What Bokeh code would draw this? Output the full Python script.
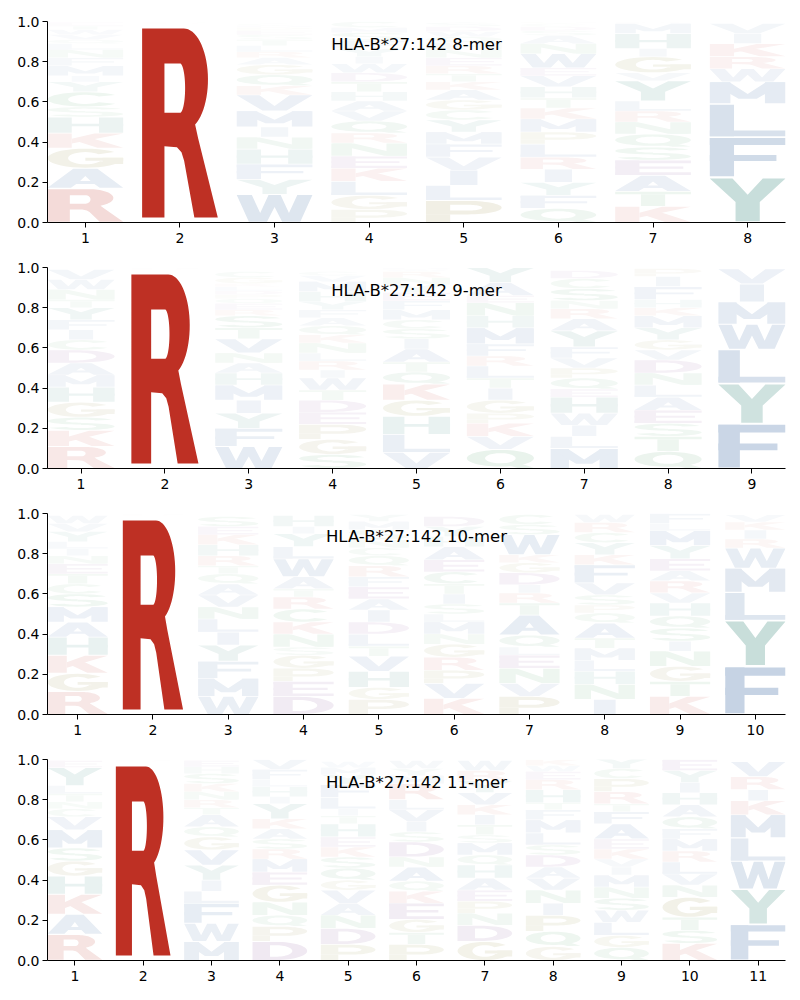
import numpy as np
from bokeh.plotting import figure
from bokeh.models import ColumnDataSource, Range1d, FixedTicker, PrintfTickFormatter, Label
from bokeh.layouts import column
from bokeh.embed import file_html
from bokeh.resources import INLINE

allele = "HLA-B*27:142"
lengths = [8, 9, 10, 11]
y_ticks = [0.0, 0.2, 0.4, 0.6, 0.8, 1.0]

# letters per position, bottom -> top, with their heights
letters_8 = ["RAGKHSCYIMFNLQVWTE", "RKQH", "WYFHNIMVKQGARLTSEPDC", "PGLKENRQVAHTDWIYFSMC",
             "PLIVFMYCGAKTRENHQWDS", "QFYIRLPMKTHVEWNASDCG", "KTAESQNRLYVGIHMFW", "YFLMWRKIV"]
heights_8 = [
    [.17, .10, .10, .075, .08, .05, .075, .05, .03, .05, .04, .04, .03, .02, .025, .025, .02, .015],
    [.99, .005, .003, .002],
    [.14, .075, .075, .075, .06, .05, .08, .08, .045, .055, .05, .035, .03, .03, .03, .025, .02, .015, .01, .01],
    [.065, .07, .07, .065, .06, .065, .05, .06, .05, .05, .045, .05, .045, .045, .035, .04, .04, .04, .025, .03],
    [.11, .075, .075, .065, .065, .06, .06, .05, .05, .05, .04, .04, .04, .04, .04, .035, .03, .025, .025, .02],
    [.07, .065, .065, .065, .06, .065, .06, .065, .055, .05, .055, .055, .04, .07, .05, .04, .025, .02, .015, .01],
    [.08, .075, .08, .075, .065, .065, .06, .055, .05, .1, .04, .08, .04, .075, .05, .005, .005],
    [.225, .2, .165, .11, .065, .06, .065, .05, .05],
]

letters_9 = ["RKSGHMADCIFYTNWV", "RKH", "WFYIMHANVTSREQPDLKGC", "SGPEDTWIRLNKQAFYHMVC",
             "VLHGKQTAISCMFEYNRWD", "QVKPGITLRFMHNEAY", "MLIWHEQPVFYARNSCD", "QTSEALNDVGYMKHFIP",
             "FYLWMIV"]
heights_9 = [
    [.11, .08, .065, .075, .075, .06, .06, .065, .05, .05, .05, .06, .04, .05, .05, .05],
    [.99, .005, .005],
    [.11, .09, .075, .065, .075, .06, .05, .05, .07, .055, .06, .03, .03, .025, .02, .02, .02, .015, .03, .03],
    [.07, .075, .075, .06, .06, .05, .06, .04, .045, .04, .05, .04, .045, .04, .04, .04, .05, .05, .03, .02],
    [.08, .09, .09, .08, .08, .06, .05, .065, .05, .05, .045, .05, .045, .04, .04, .035, .03, .01, .01],
    [.095, .065, .065, .05, .065, .06, .05, .06, .05, .06, .08, .06, .065, .035, .065, .075],
    [.1, .06, .055, .06, .08, .04, .055, .05, .05, .055, .08, .06, .05, .04, .06, .05, .04],
    [.085, .075, .065, .065, .065, .06, .06, .065, .05, .05, .06, .06, .04, .04, .065, .05, .04],
    [.223, .2, .17, .125, .11, .09, .075],
]

letters_10 = ["RGKHAMSCTENILYVW", "RKH", "WMFYILNVAQTRHKES", "DEPGSNKCRTAWLYIH",
              "PGHVTLDIAEFRQCNSMY", "KVPRGNMLSITCEAHYD", "PVNELQATRIDGKWSC", "INHLMTAQPSVFKYCRW",
              "KTGNISQHVRAEYMLF", "FYLMWRIKV"]
heights_10 = [
    [.115, .09, .09, .09, .075, .075, .065, .05, .05, .05, .04, .035, .035, .05, .04, .04],
    [.99, .005, .005],
    [.09, .09, .085, .08, .065, .065, .06, .06, .055, .05, .04, .05, .055, .05, .04, .05],
    [.09, .075, .065, .065, .04, .065, .06, .065, .06, .04, .06, .09, .06, .065, .035, .055],
    [.075, .06, .08, .075, .05, .06, .06, .06, .055, .06, .05, .055, .05, .04, .04, .05, .04, .035],
    [.08, .075, .065, .065, .065, .05, .06, .04, .05, .05, .05, .06, .06, .065, .05, .05, .05],
    [.09, .065, .075, .065, .04, .06, .1, .06, .05, .04, .06, .05, .04, .1, .05, .05],
    [.075, .075, .065, .055, .06, .05, .075, .05, .04, .05, .06, .09, .05, .06, .05, .05, .04],
    [.09, .075, .075, .075, .05, .065, .06, .065, .05, .06, .05, .06, .065, .075, .035, .05],
    [.24, .228, .14, .12, .1, .045, .045, .04, .035],
]

letters_11 = ["RAKHGSMVCNTLYE", "RKH", "MWFLIYVGQATRNKSHE", "DPQNGEMRSAKYIHLFV",
              "PDNAVGQSKEHTILFYMW", "PTGEKQANDSIVLRMYW", "GDNPEAHQMSTIKVYRW", "GQPINVADSLMFTHREWK",
              "QGLWSNMIVKEAFTRPCY", "KSTGNVLRMFQAHIYE", "FYWLMKIRV"]
heights_11 = [
    [.13, .1, .1, .09, .075, .065, .09, .065, .04, .035, .04, .04, .09, .035],
    [.99, .005, .005],
    [.095, .09, .1, .06, .055, .075, .075, .065, .05, .06, .035, .04, .04, .04, .05, .035, .03],
    [.095, .075, .055, .065, .085, .065, .065, .05, .05, .05, .05, .075, .035, .05, .035, .05, .05],
    [.08, .08, .065, .06, .065, .05, .06, .055, .05, .05, .065, .04, .035, .055, .065, .05, .035, .03],
    [.08, .06, .065, .08, .06, .05, .07, .05, .075, .05, .05, .06, .05, .08, .04, .035, .04],
    [.095, .08, .06, .06, .055, .06, .065, .05, .06, .04, .05, .05, .05, .06, .06, .05, .05],
    [.07, .075, .08, .06, .065, .06, .055, .06, .05, .06, .065, .05, .035, .065, .05, .04, .03, .03],
    [.065, .06, .065, .06, .06, .055, .06, .04, .04, .05, .05, .075, .06, .04, .06, .065, .05, .05],
    [.085, .065, .065, .1, .06, .055, .06, .055, .06, .05, .06, .06, .06, .05, .06, .055],
    [.18, .175, .14, .115, .115, .07, .055, .065, .075],
]

panels = [(letters_8, heights_8), (letters_9, heights_9), (letters_10, heights_10), (letters_11, heights_11)]

# colour scheme
RED, BLUE, TEAL = (190, 48, 36), (21, 75, 143), (15, 112, 96)
PURPLE, OLIVE, GREEN = (100, 30, 120), (125, 115, 25), (30, 130, 55)
BASE = {}
for c in "KR": BASE[c] = RED
for c in "AFILMVW": BASE[c] = BLUE
for c in "HY": BASE[c] = TEAL
for c in "DE": BASE[c] = PURPLE
for c in "GP": BASE[c] = OLIVE
for c in "CNQST": BASE[c] = GREEN

HALF = 0.4
PAD = 0.025
TU, TV = 0.32, 0.18


def rect(u0, v0, u1, v1):
    return [[(u0, v0), (u1, v0), (u1, v1), (u0, v1)]]


def arc(cu, cv, ru, rv, a0, a1, n=30):
    t = np.radians(np.linspace(a0, a1, n))
    return list(zip(cu + ru * np.cos(t), cv + rv * np.sin(t)))


def band(cu, cv, ru, rv, tu, tv, a0, a1):
    return [arc(cu, cv, ru, rv, a0, a1) + arc(cu, cv, ru - tu, rv - tv, a1, a0)]


def shape(ch):
    tu, tv = TU, TV
    P = []
    if ch == "A":
        P.append([[(0, 0), (0.34, 1), (0.66, 1), (1, 0), (0.69, 0), (0.62, 0.2), (0.38, 0.2), (0.31, 0)],
                  [(0.43, 0.36), (0.57, 0.36), (0.5, 0.62)]])
    elif ch == "C":
        P.append(band(0.5, 0.5, 0.5, 0.5, tu * 0.85, tv, 38, 322))
    elif ch == "D":
        outer = [(0, 0), (0, 1), (0.42, 1)] + arc(0.42, 0.5, 0.58, 0.5, 90, -90)
        hole = [(tu, tv), (tu, 1 - tv), (0.42, 1 - tv)] + arc(0.42, 0.5, 0.58 - tu * 0.85, 0.5 - tv, 90, -90)
        P.append([outer, hole])
    elif ch == "E":
        P += [rect(0, 0, tu, 1), rect(0, 1 - tv, 1, 1), rect(0, 0.42, 0.9, 0.58), rect(0, 0, 1, tv)]
    elif ch == "F":
        P += [rect(0, 0, tu, 1), rect(0, 1 - tv, 1, 1), rect(0, 0.4, 0.88, 0.56)]
    elif ch == "G":
        P += [band(0.5, 0.5, 0.5, 0.5, tu * 0.85, tv, 40, 330), rect(0.5, 0.36, 1, 0.52),
              rect(1 - tu * 0.85, 0.2, 1, 0.52)]
    elif ch == "H":
        P += [rect(0, 0, tu, 1), rect(1 - tu, 0, 1, 1), rect(0, 0.42, 1, 0.58)]
    elif ch == "I":
        P += [rect(0.32, 0, 0.68, 1)]
    elif ch == "K":
        P += [rect(0, 0, tu, 1), [[(tu, 0.62), (0.62, 1), (1, 1), (tu, 0.3)]],
              [[(0.36, 0.5), (0.6, 0.64), (1, 0), (0.66, 0)]]]
    elif ch == "L":
        P += [rect(0, 0, tu, 1), rect(0, 0, 1, tv)]
    elif ch == "M":
        P += [rect(0, 0, tu * 0.85, 1), rect(1 - tu * 0.85, 0, 1, 1),
              [[(0, 1), (0.26, 1), (0.5, 0.45), (0.74, 1), (1, 1), (0.62, 0.22), (0.38, 0.22)]]]
    elif ch == "N":
        P += [rect(0, 0, tu * 0.85, 1), rect(1 - tu * 0.85, 0, 1, 1),
              [[(0, 1), (0.3, 1), (1, 0), (0.7, 0)]]]
    elif ch == "P":
        outer = [(0, 0.36), (0, 1), (0.55, 1)] + arc(0.55, 0.68, 0.45, 0.32, 90, -90)
        hole = [(tu, 0.36 + tv), (tu, 1 - tv), (0.55, 1 - tv)] + arc(0.55, 0.68, 0.45 - tu * 0.8, 0.32 - tv, 90, -90)
        P += [rect(0, 0, tu, 0.37), [outer, hole]]
    elif ch == "Q":
        outer = arc(0.5, 0.54, 0.5, 0.46, 0, 360, 60)
        hole = arc(0.5, 0.54, 0.5 - tu * 0.85, 0.46 - tv, 0, 360, 60)
        P += [[outer, hole], [[(0.52, 0.24), (0.74, 0.32), (1, 0.02), (0.76, 0)]]]
    elif ch == "R":
        outer = ([(0, 0), (0, 1), (0.55, 1)] + arc(0.55, 0.73, 0.32, 0.27, 90, -62)
                 + [(0.74, 0.42), (1.0, 0), (0.69, 0), (0.555, 0.30), (0.52, 0.345), (0.46, 0.372),
                    (0.295, 0.377), (0.295, 0)])
        hole = [(0.295, 0.554), (0.295, 0.815), (0.50, 0.815)] + arc(0.50, 0.6845, 0.068, 0.1305, 90, -90)
        P.append([outer, hole])
    elif ch == "S":
        P += [band(0.5, 0.72, 0.5, 0.28, tu * 0.85, 0.15, 20, 270),
              band(0.5, 0.28, 0.5, 0.28, tu * 0.85, 0.15, 90, -160)]
    elif ch == "T":
        P += [rect(0, 1 - tv, 1, 1), rect(0.5 - tu / 2, 0, 0.5 + tu / 2, 1 - tv)]
    elif ch == "V":
        P.append([[(0, 1), (0.3, 1), (0.5, 0.3), (0.7, 1), (1, 1), (0.66, 0), (0.34, 0)]])
    elif ch == "W":
        P.append([[(0, 1), (0.2, 1), (0.31, 0.33), (0.42, 1), (0.58, 1), (0.69, 0.33), (0.8, 1), (1, 1),
                   (0.84, 0), (0.6, 0), (0.5, 0.55), (0.4, 0), (0.16, 0)]])
    elif ch == "Y":
        P.append([[(0, 1), (0.3, 1), (0.5, 0.62), (0.7, 1), (1, 1), (0.66, 0.45), (0.66, 0), (0.34, 0),
                   (0.34, 0.45)]])
    return P


def blend(rgb, a):
    a = min(1.0, max(0.0, a))
    r, g, b = (int(round(255 - a * (255 - c))) for c in rgb)
    return "#%02x%02x%02x" % (r, g, b)


def build(letter_cols, height_cols):
    # each polygon of a letter becomes its own row so overlapping parts never cancel out
    xs, ys, cols = [], [], []
    hmax = max(max(h) for h in height_cols)
    for i, (lets, hs) in enumerate(zip(letter_cols, height_cols)):
        pos = i + 1
        y0 = 0.0
        for ch, h in zip(lets, hs):
            colour = blend(BASE[ch], h / hmax)
            for poly in shape(ch):
                px, py = [], []
                for ring in poly:
                    u = np.array([p[0] for p in ring], dtype=float)
                    v = np.array([p[1] for p in ring], dtype=float)
                    px.append(list(pos - HALF + 2 * HALF * u))
                    py.append(list(y0 + h * (PAD + (1 - 2 * PAD) * v)))
                xs.append([px])
                ys.append([py])
                cols.append(colour)
            y0 += h
    return ColumnDataSource(dict(xs=xs, ys=ys, color=cols))


figs = []
for k, (n, (lets, hs)) in enumerate(zip(lengths, panels)):
    p = figure(frame_width=738, frame_height=201, output_backend="svg", toolbar_location=None,
               min_border_left=47, min_border_right=15, min_border_top=21 if k == 0 else 13,
               min_border_bottom=32,
               x_range=Range1d(0.6, n + 0.4), y_range=Range1d(0, 1))
    p.outline_line_color = None
    p.grid.visible = False
    p.background_fill_color = "white"
    p.border_fill_color = "white"
    src = build(lets, hs)
    p.multi_polygons(xs="xs", ys="ys", source=src, fill_color="color", line_color=None)
    p.xaxis.ticker = FixedTicker(ticks=list(range(1, n + 1)))
    p.yaxis.ticker = FixedTicker(ticks=y_ticks)
    p.yaxis.formatter = PrintfTickFormatter(format="%.1f")
    for ax in (p.xaxis, p.yaxis):
        ax.axis_line_color = "black"
        ax.axis_line_width = 1
        ax.major_tick_line_color = "black"
        ax.major_tick_in = 0
        ax.major_tick_out = 5
        ax.minor_tick_line_color = None
        ax.major_label_text_font = "DejaVu Sans"
        ax.major_label_text_font_size = "14px"
        ax.major_label_text_color = "black"
        ax.major_label_standoff = 3
    p.xaxis.major_label_standoff = 5
    p.add_layout(Label(x=(n + 1) / 2, y=0.885, text=f"{allele} {n}-mer", text_align="center",
                       text_baseline="alphabetic", text_font="DejaVu Sans", text_font_size="16.5px",
                       text_color="black"))
    figs.append(p)

layout = column(*figs, spacing=0)
open("out.html", "w").write(file_html(layout, INLINE))
